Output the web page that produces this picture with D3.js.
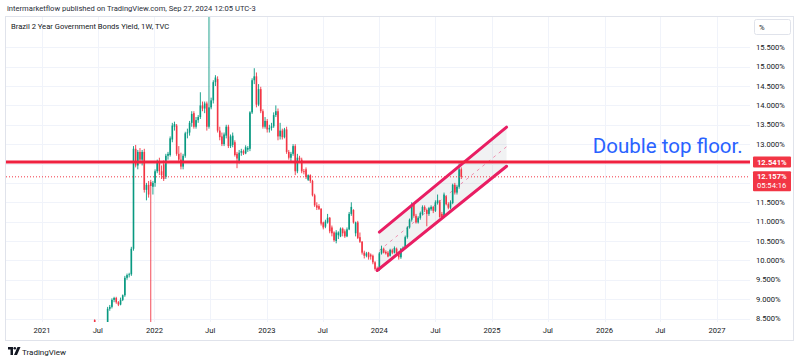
<!DOCTYPE html>
<html><head><meta charset="utf-8">
<script src="https://cdn.jsdelivr.net/npm/d3@7"></script>
<style>
body{margin:0;background:#fff;}
svg{display:block;font-family:Roboto,"Noto Sans",sans-serif;}
</style></head>
<body><svg id="c" width="800" height="361"></svg>
<script>
// ---------------- DATA ----------------
const firstWeek = "2021-06-21"; // weekly bars (Monday)
const open  = [8.46,8.35,8.15,8.25,8.20,8.28,8.32,8.75,8.80,8.98,9.03,8.92,8.86,8.98,9.10,9.55,9.62,9.64,10.30,12.88,
12.45,12.80,12.60,12.80,11.82,11.95,12.02,11.90,12.00,12.30,12.55,12.30,12.48,12.15,12.70,12.72,13.12,13.45,13.48,12.75,
12.60,12.42,12.70,13.28,13.30,13.55,13.80,13.45,13.62,13.70,14.00,13.92,14.05,13.45,13.95,14.13,14.60,14.68,13.35,13.20,
13.00,13.22,13.45,12.95,12.98,13.05,12.75,12.55,12.78,12.82,12.76,12.86,12.88,13.82,14.65,14.75,14.02,14.42,13.85,13.45,
13.60,13.38,13.42,13.46,13.75,13.85,13.20,13.35,13.18,13.38,12.80,12.65,12.75,12.95,12.30,12.65,12.60,12.30,12.35,12.08,
12.20,12.05,11.68,11.42,11.40,11.33,10.98,10.87,10.98,11.10,10.85,10.72,10.50,10.65,10.62,10.82,10.75,10.62,10.80,11.20,
11.30,10.70,10.98,10.60,10.48,10.20,10.12,10.20,10.15,10.12,9.95,9.80,9.75,10.18,10.30,10.22,10.20,10.12,10.26,10.20,
10.30,10.18,10.08,10.28,10.32,10.60,10.85,11.05,11.45,11.15,10.98,11.10,11.20,11.38,11.30,11.20,11.32,11.38,11.28,11.48,
11.52,11.20,11.12,11.65,11.45,11.36,11.48,11.95,11.75,11.90,12.35];
const high  = [8.48,8.38,8.30,8.35,8.33,8.38,8.80,8.85,9.02,9.06,9.06,8.95,9.04,9.12,9.60,9.66,9.68,10.35,12.95,12.98,
12.85,12.90,12.85,12.88,12.00,12.05,12.08,12.05,12.35,12.60,12.65,12.45,12.58,12.75,12.80,13.20,13.55,13.58,13.52,12.95,
12.78,12.75,13.32,13.40,13.60,13.85,13.85,13.70,13.75,14.34,14.10,14.10,14.10,16.60,14.20,14.65,14.78,14.75,13.45,13.30,
13.30,13.50,13.50,13.25,13.30,13.10,12.80,12.85,12.88,12.86,12.97,12.95,13.85,14.70,14.96,14.85,14.55,14.48,13.90,13.70,
13.65,13.50,13.55,13.82,14.00,13.92,13.55,13.40,13.42,13.45,12.85,12.80,13.00,13.00,12.75,12.70,12.65,12.36,12.40,12.22,
12.22,12.08,11.72,11.50,11.45,11.35,11.00,11.05,11.20,11.12,10.90,10.75,10.78,10.75,10.85,10.85,10.80,10.85,11.25,11.50,
11.32,11.00,11.02,10.72,10.50,10.25,10.22,10.22,10.18,10.15,9.98,9.84,10.22,10.38,10.33,10.26,10.24,10.30,10.30,10.36,
10.33,10.22,10.32,10.36,10.64,10.88,11.08,11.50,11.48,11.20,11.14,11.26,11.42,11.42,11.34,11.38,11.42,11.40,11.55,11.70,
11.56,11.25,11.75,11.68,11.50,11.55,11.98,12.00,11.95,12.50,12.40];
const low   = [8.30,8.10,8.05,8.15,8.10,8.20,8.30,8.70,8.76,8.92,8.88,8.82,8.84,8.95,9.06,9.50,9.56,9.60,10.25,12.40,
12.35,12.50,12.45,11.75,11.55,11.62,7.60,11.70,11.90,12.25,12.20,12.10,12.05,12.10,12.60,12.68,13.05,13.35,12.70,12.55,
12.35,12.35,12.65,13.15,13.22,13.45,13.40,13.40,13.55,13.65,13.85,13.80,13.35,13.40,13.90,14.05,14.50,13.30,13.10,12.95,
12.95,13.15,12.90,12.90,12.92,12.68,12.38,12.50,12.70,12.72,12.74,12.80,12.82,13.78,14.55,13.95,13.98,13.80,13.40,13.40,
13.30,13.30,13.35,13.42,13.70,13.10,13.12,13.12,13.15,12.75,12.60,12.55,12.70,12.20,12.25,12.55,12.25,12.22,12.10,12.05,
12.00,11.65,11.38,11.30,11.30,10.90,10.80,10.83,10.95,10.70,10.62,10.48,10.44,10.55,10.60,10.62,10.58,10.60,10.78,11.15,
10.95,10.62,10.55,10.45,10.15,10.05,10.08,10.02,10.02,9.90,9.74,9.72,9.73,10.15,10.18,10.15,10.08,10.10,10.16,10.18,
10.15,10.02,10.04,10.24,10.30,10.56,10.82,11.00,11.10,10.95,10.95,11.05,11.16,11.25,10.88,11.15,11.28,11.22,11.25,11.44,
11.10,11.08,11.10,11.42,11.32,11.32,11.45,11.70,11.70,11.85,12.10];
const close = [8.35,8.15,8.25,8.20,8.28,8.32,8.75,8.80,8.98,9.03,8.92,8.86,8.98,9.10,9.55,9.62,9.64,10.30,12.88,12.45,
12.80,12.60,12.80,11.82,11.95,11.70,11.92,12.00,12.30,12.55,12.30,12.20,12.10,12.70,12.75,13.15,13.48,13.52,12.75,12.60,
12.42,12.70,13.28,13.30,13.55,13.78,13.45,13.62,13.70,14.00,13.92,14.05,13.45,13.95,14.13,14.60,14.72,13.35,13.18,13.00,
13.25,13.45,12.95,13.20,13.22,12.72,12.63,12.78,12.82,12.76,12.92,12.90,13.82,14.65,14.75,14.02,14.42,13.85,13.45,13.60,
13.38,13.42,13.46,13.75,13.85,13.20,13.35,13.18,13.38,12.80,12.65,12.75,12.95,12.30,12.65,12.60,12.30,12.28,12.15,12.20,
12.05,11.68,11.42,11.36,11.33,10.95,10.85,11.00,11.10,10.75,10.70,10.52,10.72,10.72,10.82,10.70,10.62,10.80,11.20,11.38,
10.98,10.98,10.58,10.48,10.20,10.12,10.18,10.08,10.10,9.95,9.78,9.75,10.18,10.30,10.20,10.18,10.10,10.27,10.20,10.32,
10.18,10.08,10.30,10.33,10.60,10.85,11.05,11.45,11.15,10.98,11.10,11.22,11.38,11.30,11.20,11.35,11.38,11.28,11.50,11.55,
11.12,11.12,11.70,11.45,11.36,11.50,11.95,11.75,11.90,12.35,12.157];

const priceTicks = [8.5,9,9.5,10,10.5,11,11.5,12,12.5,13,13.5,14,14.5,15,15.5];
const hiddenTicks = [12, 12.5];           // covered by the price badges
const timeTickDates  = ["2021-01-01","2021-07-01","2022-01-01","2022-07-01","2023-01-01","2023-07-01","2024-01-01",
                        "2024-07-01","2025-01-01","2025-07-01","2026-01-01","2026-07-01","2027-01-01"];
const timeTickLabels = ["2021","Jul","2022","Jul","2023","Jul","2024","Jul","2025","Jul","2026","Jul","2027"];

const levelPrice = 12.541;        // horizontal line
const lastPrice  = 12.157;
const countdown  = "05:54:16";
const channelUpper = [["2024-01-01",10.73],["2025-02-17",13.44]];
const channelLower = [["2023-12-25",9.74],["2025-02-17",12.43]];
const note = {text:"Double top floor.", date:"2025-11-24", price:12.76};

const headerText = "intermarketflow published on TradingView.com, Sep 27, 2024 12:05 UTC-3";
const titleText  = "Brazil 2 Year Government Bonds Yield, 1W, TVC";

// ---------------- LAYOUT ----------------
const W=800,H=361;
const plot = {l:6, r:750, t:17, b:322};
const parse = d3.utcParse("%Y-%m-%d");
const x = d3.scaleUtc().domain([parse("2021-01-01"), parse("2027-01-01")]).range([42, 717]);
const y = d3.scaleLinear().domain([8.5, 15.5]).range([318.5, 47.3]);

const UP="#089981", DN="#F23645", TXT="#131722", GRID="#f0f3fa";
const svg = d3.select("#c");

const defs = svg.append("defs");
defs.append("clipPath").attr("id","pc").append("rect")
  .attr("x",plot.l).attr("y",plot.t).attr("width",plot.r-plot.l).attr("height",plot.b-plot.t);

// header
svg.append("text").attr("x",7).attr("y",11).attr("font-size",7.6).attr("fill","#2a2e39").text(headerText);

// frame
svg.append("rect").attr("x",5.5).attr("y",16.5).attr("width",788).attr("height",324)
  .attr("fill","none").attr("stroke","#e0e3eb");

// grid
const g = svg.append("g");
g.selectAll(".hg").data(priceTicks).join("line")
  .attr("x1",plot.l).attr("x2",plot.r).attr("y1",d=>Math.round(y(d))+0.5).attr("y2",d=>Math.round(y(d))+0.5)
  .attr("stroke",GRID);
g.selectAll(".vg").data(timeTickDates).join("line")
  .attr("x1",d=>Math.round(x(parse(d)))+0.5).attr("x2",d=>Math.round(x(parse(d)))+0.5)
  .attr("y1",plot.t).attr("y2",plot.b).attr("stroke",GRID);

// title
svg.append("text").attr("x",11).attr("y",29).attr("font-size",7.6).attr("fill",TXT).text(titleText);

const pg = svg.append("g").attr("clip-path","url(#pc)");

// channel fill / lines
const cp = a=>[x(parse(a[0])), y(a[1])];
const U0=cp(channelUpper[0]), U1=cp(channelUpper[1]), L0=cp(channelLower[0]), L1=cp(channelLower[1]);
const lowerAt = px => L0[1] + (L1[1]-L0[1])*(px-L0[0])/(L1[0]-L0[0]);
pg.append("path").attr("d",d3.line()([U0,U1,[U1[0],lowerAt(U1[0])],[U0[0],lowerAt(U0[0])]])+"Z")
  .attr("fill","rgba(120,123,134,0.10)");
pg.append("line").attr("x1",U0[0]).attr("y1",(U0[1]+lowerAt(U0[0]))/2).attr("x2",U1[0]).attr("y2",(U1[1]+lowerAt(U1[0]))/2)
  .attr("stroke","#E91E63").attr("stroke-opacity",0.45).attr("stroke-width",1).attr("stroke-dasharray","3,4");

// candles
const firstDate = parse(firstWeek);
const bars = close.map((c,i)=>({d:d3.utcWeek.offset(firstDate,i),o:open[i],h:high[i],l:low[i],c}));
const cg = pg.append("g");
cg.selectAll(".w").data(bars).join("line")
  .attr("x1",d=>x(d.d)).attr("x2",d=>x(d.d)).attr("y1",d=>y(d.h)).attr("y2",d=>y(d.l))
  .attr("stroke",d=>d.c>=d.o?UP:DN).attr("stroke-width",0.9);
cg.selectAll(".b").data(bars).join("rect")
  .attr("x",d=>x(d.d)-0.8).attr("width",1.6)
  .attr("y",d=>y(Math.max(d.o,d.c))).attr("height",d=>Math.max(0.8,Math.abs(y(d.o)-y(d.c))))
  .attr("fill",d=>d.c>=d.o?UP:DN);

// channel lines
[[U0,U1],[L0,L1]].forEach(([a,b])=>{
  pg.append("line").attr("x1",a[0]).attr("y1",a[1]).attr("x2",b[0]).attr("y2",b[1])
    .attr("stroke","#E91E63").attr("stroke-width",3).attr("stroke-linecap","round");
});

// last price dotted line
pg.append("line").attr("x1",plot.l).attr("x2",plot.r).attr("y1",y(lastPrice)).attr("y2",y(lastPrice))
  .attr("stroke",DN).attr("stroke-width",1).attr("stroke-dasharray","1,2");
// horizontal level
pg.append("line").attr("x1",plot.l).attr("x2",plot.r).attr("y1",y(levelPrice)).attr("y2",y(levelPrice))
  .attr("stroke","#F0213F").attr("stroke-width",3);

// annotation
svg.append("text").attr("x",x(parse(note.date))).attr("y",y(note.price))
  .attr("font-size",20.5).attr("fill","#2962FF").text(note.text);

// price axis
svg.append("g").selectAll("text").data(priceTicks.filter(t=>!hiddenTicks.includes(t))).join("text")
  .attr("x",756).attr("y",d=>y(d)).attr("dy","0.35em").attr("font-size",7.6).attr("fill",TXT)
  .text(d=>d3.format(".3f")(d)+"%");
// % box
svg.append("rect").attr("x",754.5).attr("y",19.5).attr("width",36).attr("height",15).attr("rx",2)
  .attr("fill","#fff").attr("stroke","#e0e3eb");
svg.append("text").attr("x",759).attr("y",30).attr("font-size",7.6).attr("fill",TXT).text("%");

// badges
const ly=y(levelPrice);
svg.append("rect").attr("x",753).attr("y",ly-5.5).attr("width",38).attr("height",11).attr("rx",1).attr("fill",DN);
svg.append("text").attr("x",757).attr("y",ly).attr("dy","0.35em").attr("font-size",7.6).attr("font-weight","bold")
  .attr("fill","#fff").text(d3.format(".3f")(levelPrice)+"%");
const py=y(lastPrice);
svg.append("rect").attr("x",753).attr("y",py-5.5).attr("width",38).attr("height",20).attr("rx",1).attr("fill",DN);
svg.append("text").attr("x",757).attr("y",py).attr("dy","0.35em").attr("font-size",7.6).attr("font-weight","bold")
  .attr("fill","#fff").text(d3.format(".3f")(lastPrice)+"%");
svg.append("text").attr("x",757).attr("y",py+9).attr("dy","0.35em").attr("font-size",7.6)
  .attr("fill","#fff").text(countdown);

// time axis
svg.append("g").selectAll("text").data(timeTickDates).join("text")
  .attr("x",d=>x(parse(d))).attr("y",333).attr("text-anchor","middle").attr("font-size",7.6).attr("fill",TXT)
  .text((d,i)=>timeTickLabels[i]);

// TradingView logo
const lg = svg.append("g").attr("transform","translate(8,347)");
lg.append("path").attr("d","M0,0H5V8H2.5V2.5H0Z").attr("fill",TXT);
lg.append("circle").attr("cx",6.8).attr("cy",1.3).attr("r",1.3).attr("fill",TXT);
lg.append("path").attr("d","M9.5,0H12.5L9,8H6Z").attr("fill",TXT);
svg.append("text").attr("x",22).attr("y",354.5).attr("font-size",8).attr("fill",TXT).text("TradingView");
</script></body></html>
